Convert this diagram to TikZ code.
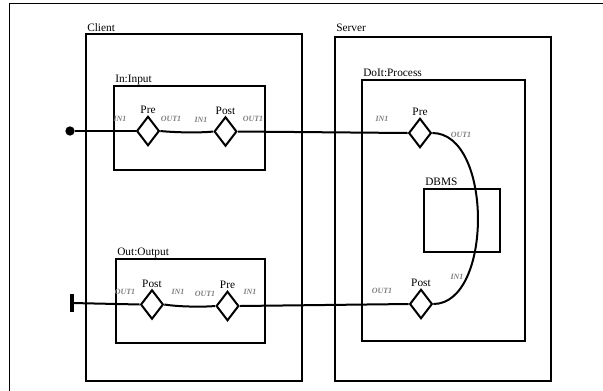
\documentclass[tikz,border=0pt]{standalone}
\usepackage{fontspec}
\setmainfont{Liberation Serif}
\usetikzlibrary{shapes.geometric}
\definecolor[named]{PortGray}{rgb}{0.5,0.5,0.5}
\tikzset{
  box/.style={draw,line width=1.5pt},
  title/.style={anchor=base west,inner sep=0pt,font=\fontsize{8.5}{10}\selectfont},
  gate/.style={draw,fill=white,diamond,line width=1.5pt,inner sep=0pt,
    minimum width=17pt,minimum height=22pt},
  port/.style={inner sep=0pt,text=PortGray,font=\fontsize{6}{7}\selectfont\bfseries\itshape},
  wire/.style={line width=1.5pt},
}
\begin{document}
\begin{tikzpicture}[x=0.75pt,y=-0.75pt]
    \useasboundingbox (0,0) rectangle (603,390);

    % Outer frame
    \draw[line width=1.4pt] (9.5,392) |- (605,3.5);

    % Components
    \draw[box] (86,34) coordinate (ClientNW) rectangle (302,381);
    \draw[box] (335,37) coordinate (ServerNW) rectangle (551,381);
    \draw[box] (114,86) coordinate (InNW) rectangle (265,170);
    \draw[box] (116,259) coordinate (OutNW) rectangle (265,343);
    \draw[box] (362,80) coordinate (DoItNW) rectangle (525,341);
    \draw[box] (424,189) coordinate (DbNW) rectangle (500,252);

    \node[title] (ClientT) at (87,31) {Client};
    \node[title] (ServerT) at (336,31) {Server};
    \node[title] (InT) at (115,82) {In:Input};
    \node[title] (OutT) at (117,255) {Out:Output};
    \node[title] (DoItT) at (363,76) {DoIt:Process};
    \node[title] (DbT) at (425,185) {DBMS};

    % Gates
    \begin{scope}[every label/.style={inner sep=1pt,font=\fontsize{8.5}{10}\selectfont}]
      \node[gate,label=above:Pre] (InPre) at (148,131) {};
      \node[gate,label=above:Post] (InPost) at (225.5,131.5) {};
      \node[gate,label=above:Post] (OutPost) at (152,304.5) {};
      \node[gate,label=above:Pre] (OutPre) at (227.5,306) {};
      \node[gate,label=above:Pre] (SrvPre) at (420,133) {};
      \node[gate,label=above:Post] (SrvPost) at (421,304) {};
    \end{scope}

    % Ends
    \node[circle,fill=black,inner sep=0pt,minimum size=7pt] (Src) at (70,131) {};
    \node[rectangle,fill=black,inner sep=0pt,minimum width=2.5pt,minimum height=14pt] (Snk) at (72,303) {};

    % Wires
    \draw[wire] (Src) -- (InPre.west);
    \draw[wire] (InPre.east) .. controls (175,132.5) and (200,133) .. (InPost.west);
    \draw[wire] (InPost.east) -- (SrvPre.west);
    \draw[wire] (SrvPre.east) .. controls (493,133) and (493,304) .. (SrvPost.east);
    \draw[wire] (SrvPost.west) -- (OutPre.east);
    \draw[wire] (OutPre.west) .. controls (205,307) and (180,307) .. (OutPost.east);
    \draw[wire] (OutPost.west) -- (Snk.center);

    % Port labels
    \path[every node/.style={port}]
      (120,119) node (InIn) {IN1}
      (171,119) node (InOut) {OUT1}
      (201,120) node (PostIn) {IN1}
      (253,119) node (PostOut) {OUT1}
      (125,292) node (OPostOut) {OUT1}
      (178,292) node (OPostIn) {IN1}
      (205,294) node (OPreOut) {OUT1}
      (250,292) node (OPreIn) {IN1}
      (382,119) node (SPreIn) {IN1}
      (461,135) node (SPreOut) {OUT1}
      (382,291) node (SPostOut) {OUT1}
      (457,277) node (SPostIn) {IN1};

  \end{tikzpicture}
\end{document}
